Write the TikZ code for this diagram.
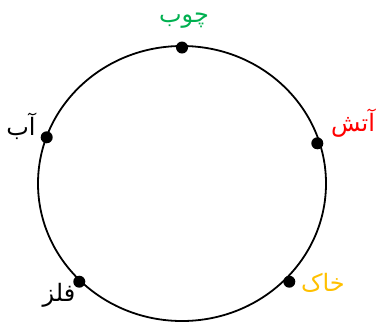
\documentclass[tikz,border=0pt]{standalone}
\usepackage{fontspec}
\newfontfamily\arabicfont[Script=Arabic]{DejaVu Sans}
\TeXXeTstate=1
\definecolor{woodgreen}{RGB}{0,176,80}
\definecolor{firered}{RGB}{255,0,0}
\definecolor{earthgold}{RGB}{255,192,0}
\begin{document}
\begin{tikzpicture}[x=1pt,y=-1pt,
  dot/.style={circle,fill=black,inner sep=0pt,minimum size=12pt},
  lbl/.style={inner sep=0pt,font=\arabicfont\fontsize{24}{28}\selectfont}]
\useasboundingbox (0,0) rectangle (379,325);
\draw[line width=1.8pt] (182,183.5) ellipse [x radius=144, y radius=137.5];
\node[dot] (wood) at (182,47.5) {};
\node[dot] (water) at (46.7,137.3) {};
\node[dot] (fire) at (317.3,143.3) {};
\node[dot] (metal) at (79.3,281.7) {};
\node[dot] (earth) at (289.3,281.7) {};
\node[lbl,text=woodgreen] (woodl) at (184,21) {\beginR چوب\endR};
\node[lbl,text=black] (waterl) at (21,126) {\beginR آب\endR};
\node[lbl,text=firered] (firel) at (353,123) {\beginR آتش\endR};
\node[lbl,text=black] (metall) at (59,295) {\beginR فلز\endR};
\node[lbl,text=earthgold] (earthl) at (323,283) {\beginR خاک\endR};
\end{tikzpicture}
\end{document}
